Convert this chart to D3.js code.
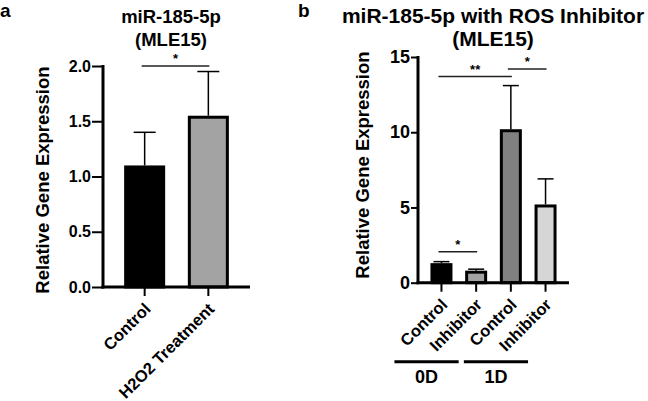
<!DOCTYPE html>
<html>
<head>
<meta charset="utf-8">
<script src="https://cdn.jsdelivr.net/npm/d3@7"></script>
<style>
  html, body { margin: 0; padding: 0; background: #fff; }
  svg { display: block; font-family: "Liberation Sans", Arial, sans-serif; font-weight: bold; }
</style>
</head>
<body>
<svg id="chart" width="648" height="401"></svg>
<script>
// ---------- Panel a data ----------
const aCategories = ["Control", "H2O2 Treatment"];
const aValues = [1.1, 1.55];
const aErrors = [0.3, 0.4];
const aColors = ["#000000", "#a3a3a3"];
const aTicks = [0, 0.5, 1.0, 1.5, 2.0];
const aSig = [{ from: 0, to: 1, level: 2.0, label: "*" }];

// ---------- Panel b data ----------
const bCategories = ["Control 0D", "Inhibitor 0D", "Control 1D", "Inhibitor 1D"];
const bLabels = ["Control", "Inhibitor", "Control", "Inhibitor"];
const bValues = [1.3, 0.8, 10.2, 5.2];
const bErrors = [0.1, 0.1, 2.9, 1.7];
const bColors = ["#000000", "#a3a3a3", "#808080", "#d6d6d6"];
const bTicks = [0, 5, 10, 15];
const bSig = [
  { from: 0, to: 1, level: 2.05, label: "*" },
  { from: 0, to: 2, level: 13.7, label: "**" },
  { from: 2, to: 3, level: 14.2, label: "*" }
];
const bGroups = [{ name: "0D", from: 0, to: 1 }, { name: "1D", from: 2, to: 3 }];

const svg = d3.select("#chart");

function panel(cfg) {
  const g = svg.append("g");
  const y = d3.scaleLinear().domain(cfg.domain).range([cfg.y0, cfg.y1]);
  const x = d3.scaleBand().domain(cfg.cats).range([cfg.xAxis, cfg.xEnd])
    .paddingInner(cfg.pi).paddingOuter(cfg.po);
  const bw = x.bandwidth();

  // bars
  g.selectAll("rect.bar").data(cfg.values).enter().append("rect")
    .attr("x", (d, i) => x(cfg.cats[i]) + 1.5)
    .attr("width", bw - 3)
    .attr("y", d => y(d) + 1.5)
    .attr("height", d => y(0) - y(d) - 1.5)
    .attr("fill", (d, i) => cfg.colors[i])
    .attr("stroke", "#000").attr("stroke-width", 3);

  // error bars (upper only)
  cfg.values.forEach((v, i) => {
    const cx = x(cfg.cats[i]) + bw / 2;
    const top = y(v + cfg.errors[i]);
    g.append("line").attr("x1", cx).attr("x2", cx).attr("y1", y(v)).attr("y2", top)
      .attr("stroke", "#000").attr("stroke-width", 1.5);
    g.append("line").attr("x1", cx - cfg.cap).attr("x2", cx + cfg.cap).attr("y1", top).attr("y2", top)
      .attr("stroke", "#000").attr("stroke-width", 1.5);
  });

  // y axis
  const ya = g.append("g").attr("transform", `translate(${cfg.xAxis},0)`)
    .call(d3.axisLeft(y).tickValues(cfg.ticks).tickFormat(cfg.fmt).tickSize(cfg.tickSize).tickPadding(1).tickSizeOuter(0));
  ya.select(".domain").attr("stroke-width", 3).attr("d", `M0,${cfg.y0 + 1.5}V${cfg.y1 - 1}`);
  ya.selectAll(".tick line").attr("stroke-width", 2);
  ya.selectAll("text").attr("font-size", cfg.tickFont).attr("font-weight", "bold")
    .attr("font-family", "Liberation Sans, Arial, sans-serif").attr("fill", "#000");

  // x axis
  const xa = g.append("g").attr("transform", `translate(0,${cfg.y0})`)
    .call(d3.axisBottom(x).tickSize(9).tickSizeOuter(0).tickFormat(""));
  xa.select(".domain").attr("stroke-width", 3).attr("d", `M${cfg.xAxis - 1.5},0H${cfg.xEnd}`);
  xa.selectAll(".tick line").attr("stroke-width", 2);

  // x labels rotated
  cfg.labels.forEach((lab, i) => {
    const cx = x(cfg.cats[i]) + bw / 2;
    g.append("text").attr("transform", `translate(${cx + 7},${cfg.y0 + 23}) rotate(-45)`)
      .attr("text-anchor", "end").attr("font-size", 16.5).text(lab);
  });

  // significance
  cfg.sig.forEach(s => {
    const x1 = x(cfg.cats[s.from]) + bw / 2 - 3, x2 = x(cfg.cats[s.to]) + bw / 2 + 1;
    const yy = y(s.level);
    g.append("line").attr("x1", x1).attr("x2", x2).attr("y1", yy).attr("y2", yy)
      .attr("stroke", "#222").attr("stroke-width", 1.5);
    g.append("text").attr("x", (x1 + x2) / 2).attr("y", yy - 3).attr("text-anchor", "middle")
      .attr("font-size", 13).text(s.label);
  });

  // y title
  g.append("text").attr("transform", `translate(${cfg.ytx},${cfg.yty}) rotate(-90)`)
    .attr("text-anchor", "middle").attr("font-size", cfg.ytFont).text("Relative Gene Expression");

  // title
  cfg.title.forEach((t, k) => {
    g.append("text").attr("x", cfg.titleX).attr("y", 23 + 23 * k).attr("text-anchor", "middle")
      .attr("font-size", cfg.titleFont).text(t);
  });
  g.append("text").attr("x", cfg.letterX).attr("y", 17).attr("font-size", 19).text(cfg.letter);

  return { x, y, bw, g };
}

panel({
  cats: aCategories, labels: aCategories, values: aValues, errors: aErrors, colors: aColors,
  ticks: aTicks, fmt: d3.format(".1f"), sig: aSig, domain: [0, 2], y0: 287, y1: 66,
  xAxis: 103, xEnd: 250, pi: 0.356, po: 0.332, cap: 11, tickSize: 11, tickFont: 16,
  ytx: 49, yty: 180, ytFont: 18.5, title: ["miR-185-5p", "(MLE15)"], titleX: 171, titleFont: 18.5,
  letter: "a", letterX: 0
});

const pb = panel({
  cats: bCategories, labels: bLabels, values: bValues, errors: bErrors, colors: bColors,
  ticks: bTicks, fmt: d3.format("d"), sig: bSig, domain: [0, 15], y0: 282.7, y1: 57,
  xAxis: 418, xEnd: 569, pi: 0.366, po: 0.359, cap: 8, tickSize: 7, tickFont: 18,
  ytx: 369, yty: 165, ytFont: 18.5, title: ["miR-185-5p with ROS Inhibitor", "(MLE15)"], titleX: 493, titleFont: 21,
  letter: "b", letterX: 298
});

// group brackets under panel b labels
bGroups.forEach(gr => {
  const c1 = pb.x(bCategories[gr.from]) + pb.bw / 2, c2 = pb.x(bCategories[gr.to]) + pb.bw / 2;
  const x1 = c1 - 47, x2 = c2 - 17.5;
  pb.g.append("line").attr("x1", x1).attr("x2", x2).attr("y1", 361.7).attr("y2", 361.7)
    .attr("stroke", "#000").attr("stroke-width", 3);
  pb.g.append("text").attr("x", (x1 + x2) / 2).attr("y", 383).attr("text-anchor", "middle")
    .attr("font-size", 18).text(gr.name);
});
</script>
</body>
</html>
